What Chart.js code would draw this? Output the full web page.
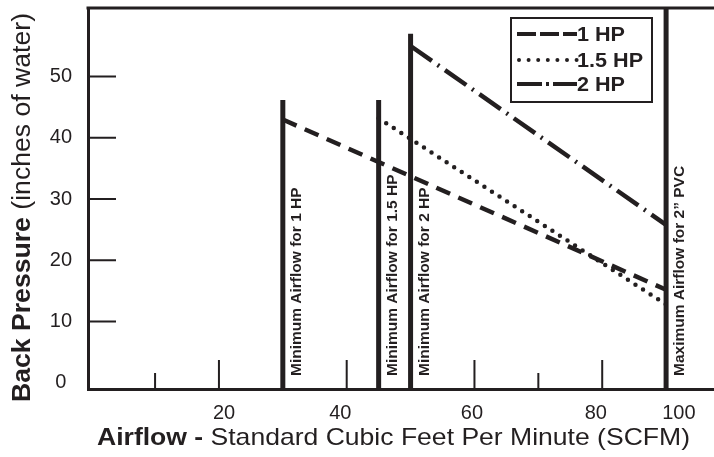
<!DOCTYPE html>
<html>
<head>
<meta charset="utf-8">
<script src="https://cdn.jsdelivr.net/npm/chart.js@4.4.1/dist/chart.umd.min.js"></script>
<style>
  html, body { margin: 0; padding: 0; background: #fff; }
  #wrap { width: 714px; height: 457px; }
</style>
</head>
<body>
<div id="wrap"><canvas id="chart"></canvas></div>
<script>
// values
const hp1X = [30, 90];
const hp1Y = [43, 15.2];
const hp15X = [45, 90];
const hp15Y = [43.2, 12.8];
const hp2X = [50, 90];
const hp2Y = [55, 25.8];

const limitX = [30, 45, 50, 90];
const limitTop = [46.2, 46.2, 57, 61.2];
const limitLabels = ['Minimum Airflow for 1 HP', 'Minimum Airflow for 1.5 HP', 'Minimum Airflow for 2 HP', 'Maximum Airflow for 2\u201D PVC'];

const yTicks = [0, 10, 20, 30, 40, 50];
const xTickLabels = ['20', '40', '60', '80', '100'];
const xLabelAt = [20.8, 39, 59.6, 79, 92];
const xMinorTicks = [10, 20, 30, 40, 50, 60, 70, 80, 90];

const INK = '#231f20';
const FONT = "'Liberation Sans', Arial, Helvetica, sans-serif";

function pts(xs, ys) {
    return xs.map((x, i) => ({ x: x, y: ys[i] }));
}

const seriesSets = [
    { label: '1 HP', data: pts(hp1X, hp1Y), borderDash: [15, 9], borderCapStyle: 'butt', legendDash: [19, 4] },
    { label: '1.5 HP', data: pts(hp15X, hp15Y), borderDash: [0, 9], borderCapStyle: 'round', legendDash: [0, 9.6] },
    { label: '2 HP', data: pts(hp2X, hp2Y), borderDash: [26, 7, 2, 7], borderCapStyle: 'butt', legendDash: [25, 4, 3, 4, 40] }
].map(d => Object.assign(d, {
    showLine: true, borderColor: INK, borderWidth: 4.5, pointRadius: 0, fill: false
}));

const limitSets = limitX.map((x, i) => ({
    label: limitLabels[i],
    data: [{ x: x, y: -1 }, { x: x, y: limitTop[i] }],
    showLine: true, borderColor: INK, borderWidth: 5, pointRadius: 0, fill: false, borderCapStyle: 'butt'
}));

// text in bold + regular parts, squeezed/stretched to a given width, centred on (0,0)
function mixedText(ctx, parts, size, width) {
    let total = 0;
    const ws = parts.map(p => {
        ctx.font = (p.bold ? 'bold ' : '') + size + 'px ' + FONT;
        const w = ctx.measureText(p.text).width;
        total += w;
        return w;
    });
    ctx.save();
    ctx.scale(width / total, 1);
    let x = -total / 2;
    parts.forEach((p, i) => {
        ctx.font = (p.bold ? 'bold ' : '') + size + 'px ' + FONT;
        ctx.fillText(p.text, x, 0);
        x += ws[i];
    });
    ctx.restore();
}

// draws what Chart.js has no option for: inward ticks, rotated notes, titles, legend box
const extras = {
    id: 'extras',
    afterDatasetsDraw(chart) {
        const ctx = chart.ctx;
        const xs = chart.scales.x, ys = chart.scales.y;
        const area = chart.chartArea;
        ctx.save();
        ctx.strokeStyle = INK;
        ctx.fillStyle = INK;

        // top border
        ctx.lineWidth = 3;
        ctx.beginPath();
        ctx.moveTo(area.left - 1.5, area.top);
        ctx.lineTo(area.right, area.top);
        ctx.stroke();

        // inward ticks
        ctx.lineWidth = 2;
        ctx.beginPath();
        yTicks.slice(1).forEach(v => {
            const py = ys.getPixelForValue(v);
            ctx.moveTo(area.left, py);
            ctx.lineTo(area.left + 28, py);
        });
        xMinorTicks.forEach(v => {
            const px = xs.getPixelForValue(v);
            const len = v % 20 === 0 ? 29 : 16;
            ctx.moveTo(px, area.bottom);
            ctx.lineTo(px, area.bottom - len);
        });
        ctx.stroke();

        // notes beside the limit lines
        ctx.font = 'bold 15.5px ' + FONT;
        ctx.textAlign = 'left';
        ctx.textBaseline = 'middle';
        limitX.forEach((v, i) => {
            const px = xs.getPixelForValue(v);
            ctx.save();
            ctx.translate(px + 14, area.bottom - 13);
            ctx.rotate(-Math.PI / 2);
            ctx.fillText(limitLabels[i], 0, 0);
            ctx.restore();
        });

        // axis titles
        ctx.textBaseline = 'middle';
        ctx.save();
        ctx.translate(393.5, 438);
        mixedText(ctx, [{ text: 'Airflow - ', bold: true }, { text: 'Standard Cubic Feet Per Minute (SCFM)' }], 24, 593);
        ctx.restore();

        ctx.save();
        ctx.translate(23, 207.5);
        ctx.rotate(-Math.PI / 2);
        mixedText(ctx, [{ text: 'Back Pressure ', bold: true }, { text: '(inches of water)' }], 25, 389);
        ctx.restore();

        // legend
        ctx.lineWidth = 2;
        ctx.strokeRect(511, 18, 141, 84);
        const rows = [34, 60, 84];
        seriesSets.forEach((d, i) => {
            ctx.save();
            ctx.lineWidth = 4;
            ctx.lineCap = d.borderCapStyle;
            ctx.setLineDash(d.legendDash);
            ctx.beginPath();
            ctx.moveTo(d.borderCapStyle === 'round' ? 519 : 517, rows[i]);
            ctx.lineTo(577, rows[i]);
            ctx.stroke();
            ctx.restore();
            ctx.save();
            ctx.font = 'bold 20px ' + FONT;
            ctx.translate(577, rows[i] + 1);
            ctx.scale(1.08, 1);
            ctx.fillText(d.label, 0, 0);
            ctx.restore();
        });

        ctx.restore();
    }
};

new Chart(document.getElementById('chart'), {
    type: 'scatter',
    data: { datasets: seriesSets.concat(limitSets) },
    options: {
        responsive: true,
        maintainAspectRatio: false,
        animation: false,
        layout: { padding: { top: 8, right: 0, left: 0, bottom: 0 } },
        plugins: {
            legend: { display: false },
            tooltip: { enabled: false }
        },
        scales: {
            x: {
                type: 'linear',
                min: -0.5,
                max: 97.5,
                afterBuildTicks: s => { s.ticks = xLabelAt.map(v => ({ value: v })); },
                afterFit: s => { s.height = 68; s.paddingLeft = 0; s.paddingRight = 0; },
                grid: { display: false, drawTicks: false },
                border: { display: true, color: INK, width: 3 },
                ticks: {
                    autoSkip: false,
                    maxRotation: 0,
                    padding: 12,
                    color: INK,
                    font: { family: FONT, size: 20 },
                    callback: (v, i) => xTickLabels[i]
                }
            },
            y: {
                min: -1,
                max: 61.2,
                afterBuildTicks: s => { s.ticks = yTicks.map(v => ({ value: v })); },
                afterFit: s => { s.width = 88; s.paddingTop = 0; s.paddingBottom = 0; },
                grid: { display: false, drawTicks: false },
                border: { display: true, color: INK, width: 3 },
                ticks: {
                    padding: 16,
                    crossAlign: 'center',
                    color: INK,
                    font: { family: FONT, size: 20 }
                }
            }
        }
    },
    plugins: [extras]
});
</script>
</body>
</html>
